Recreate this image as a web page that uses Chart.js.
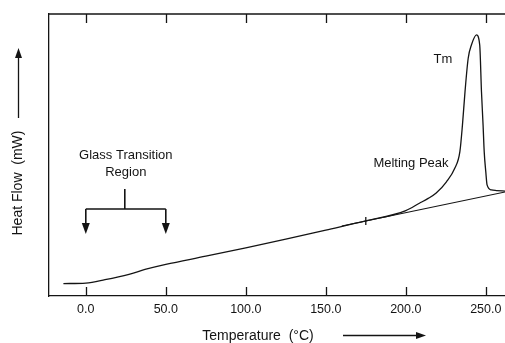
<!DOCTYPE html>
<html>
<head>
<meta charset="utf-8">
<script src="https://cdn.jsdelivr.net/npm/chart.js@4.4.0/dist/chart.umd.min.js"></script>
<style>
  html, body { margin: 0; padding: 0; background: #fff; }
  canvas { display: block; }
</style>
</head>
<body>
<canvas id="myChart" width="505" height="343"></canvas>
<script>
// DSC trace: temperature (°C) vs heat flow (arbitrary mW scale)
var tempC    = [-14, 0, 12, 27, 37, 50, 75, 100, 125, 150, 175, 200, 208.5, 214, 219, 225.4, 230.6, 233.8, 235.4, 237, 239, 241, 244.2, 246.2, 247.3, 248.3, 249, 250, 250.8, 253.5, 256.7, 262];
var heatFlow = [4.4, 4.6, 5.8, 7.7, 9.4, 11.2, 14.1, 17.1, 20.2, 23.4, 26.6, 30.3, 32.9, 34.6, 36.5, 40.5, 45.3, 51.2, 60.6, 72.4, 84.3, 89.0, 92.6, 89.0, 72.4, 60.6, 51.2, 44.0, 39.4, 37.6, 37.4, 37.2];

// extrapolated baseline under the melting peak
var baseTemp = [160, 262];
var baseFlow = [24.8, 36.9];

// small mark where the baseline is drawn from
var markTemp = [175];
var markFlow = [26.6];

var tickValues = [0, 50, 100, 150, 200, 250];

var FONT = '"Liberation Sans", Arial, Helvetica, sans-serif';
var INK = '#141414';

function toPoints(xs, ys) {
    return xs.map(function (x, i) { return { x: x, y: ys[i] }; });
}

function arrowHead(ctx, x, y, dir) {
    // dir: 'up', 'down', 'right'
    ctx.beginPath();
    if (dir === 'down') {
        ctx.moveTo(x, y);
        ctx.lineTo(x - 4, y - 11);
        ctx.lineTo(x + 4, y - 11);
    } else if (dir === 'up') {
        ctx.moveTo(x, y);
        ctx.lineTo(x - 3.5, y + 10);
        ctx.lineTo(x + 3.5, y + 10);
    } else {
        ctx.moveTo(x, y);
        ctx.lineTo(x - 10, y - 3.5);
        ctx.lineTo(x - 10, y + 3.5);
    }
    ctx.closePath();
    ctx.fill();
}

var decorations = {
    id: 'decorations',
    afterDraw: function (chart) {
        var ctx = chart.ctx;
        var area = chart.chartArea;
        var xs = chart.scales.x;
        ctx.save();
        ctx.strokeStyle = INK;
        ctx.fillStyle = INK;
        ctx.lineWidth = 1.3;

        // top frame line
        ctx.beginPath();
        ctx.moveTo(area.left, area.top);
        ctx.lineTo(area.right, area.top);
        ctx.stroke();

        // inward tick marks, top and bottom
        tickValues.forEach(function (v) {
            var px = Math.round(xs.getPixelForValue(v)) + 0.5;
            ctx.beginPath();
            ctx.moveTo(px, area.bottom);
            ctx.lineTo(px, area.bottom - 9);
            ctx.moveTo(px, area.top);
            ctx.lineTo(px, area.top + 9);
            ctx.stroke();
        });

        // x axis title with arrow
        ctx.font = '14px ' + FONT;
        ctx.textAlign = 'center';
        ctx.textBaseline = 'middle';
        ctx.fillText('Temperature  (\u00B0C)', 258, 336);
        ctx.beginPath();
        ctx.moveTo(343, 335.5);
        ctx.lineTo(418, 335.5);
        ctx.stroke();
        arrowHead(ctx, 426, 335.5, 'right');

        // y axis title with arrow
        ctx.save();
        ctx.translate(18, 183);
        ctx.rotate(-Math.PI / 2);
        ctx.fillText('Heat Flow  (mW)', 0, 0);
        ctx.restore();
        ctx.beginPath();
        ctx.moveTo(18.5, 118);
        ctx.lineTo(18.5, 56);
        ctx.stroke();
        arrowHead(ctx, 18.5, 48, 'up');

        // glass transition bracket, arrows at 0 and 50 °C
        var gx0 = xs.getPixelForValue(0);
        var gx1 = xs.getPixelForValue(50);
        var gmid = (gx0 + gx1) / 2 - 1;
        ctx.font = '13px ' + FONT;
        ctx.fillText('Glass Transition', gmid + 1, 155);
        ctx.fillText('Region', gmid + 1, 172);
        ctx.lineWidth = 1.6;
        ctx.beginPath();
        ctx.moveTo(gmid, 189);
        ctx.lineTo(gmid, 209);
        ctx.moveTo(gx0, 209);
        ctx.lineTo(gx1, 209);
        ctx.moveTo(gx0, 209);
        ctx.lineTo(gx0, 224);
        ctx.moveTo(gx1, 209);
        ctx.lineTo(gx1, 224);
        ctx.stroke();
        arrowHead(ctx, gx0, 234, 'down');
        arrowHead(ctx, gx1, 234, 'down');

        // peak labels
        ctx.fillText('Melting Peak', 411, 163);
        ctx.fillText('Tm', 443, 59);
        ctx.restore();
    }
};

var myChart;

function createChart() {
    var ctx = document.getElementById('myChart').getContext('2d');
    myChart = new Chart(ctx, {
        type: 'scatter',
        data: {
            datasets: [{
                data: toPoints(tempC, heatFlow),
                showLine: true,
                borderColor: INK,
                borderWidth: 1.3,
                pointRadius: 0,
                cubicInterpolationMode: 'monotone'
            }, {
                data: toPoints(baseTemp, baseFlow),
                showLine: true,
                borderColor: INK,
                borderWidth: 1.1,
                pointRadius: 0
            }, {
                data: toPoints(markTemp, markFlow),
                showLine: false,
                pointStyle: 'line',
                rotation: 90,
                pointRadius: 4,
                borderColor: INK,
                borderWidth: 1.3
            }]
        },
        options: {
            responsive: false,
            animation: false,
            devicePixelRatio: 1,
            layout: {
                autoPadding: false,
                padding: { top: 14, right: 0, left: 0, bottom: 0 }
            },
            plugins: {
                legend: { display: false },
                tooltip: { enabled: false }
            },
            scales: {
                x: {
                    type: 'linear',
                    min: -23,
                    max: 262,
                    afterBuildTicks: function (scale) {
                        scale.ticks = tickValues.map(function (v) { return { value: v }; });
                    },
                    afterFit: function (scale) {
                        scale.height = 47;
                        scale.paddingLeft = 0;
                        scale.paddingRight = 0;
                    },
                    ticks: {
                        color: INK,
                        font: { family: FONT, size: 12.5 },
                        padding: 6,
                        maxRotation: 0,
                        callback: function (v) { return Number(v).toFixed(1); }
                    },
                    grid: { drawOnChartArea: false, drawTicks: false },
                    border: { display: true, color: INK, width: 1.3 }
                },
                y: {
                    min: 0,
                    max: 100,
                    afterFit: function (scale) { scale.width = 49; },
                    ticks: { display: false },
                    grid: { drawOnChartArea: false, drawTicks: false },
                    border: { display: true, color: INK, width: 1.3 }
                }
            }
        },
        plugins: [decorations]
    });
}

document.addEventListener("DOMContentLoaded", function () {
    createChart();
});
</script>
</body>
</html>
